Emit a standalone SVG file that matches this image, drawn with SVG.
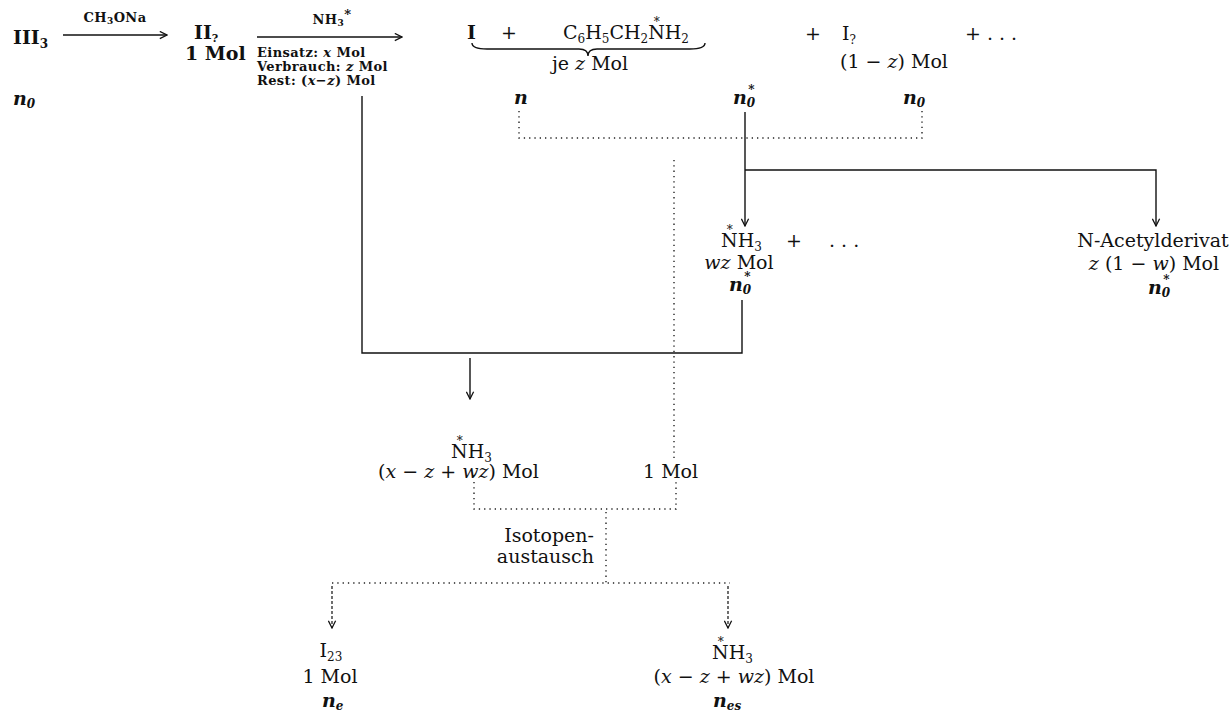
<svg xmlns="http://www.w3.org/2000/svg" width="1232" height="715" viewBox="0 0 1232 715">
<defs>
<style>
text{font-family:"DejaVu Serif","Liberation Serif",serif;fill:#111;font-size:19px}
.b{font-weight:bold}
.sm{font-size:13px;font-weight:bold;letter-spacing:0.4px}
.v{font-style:italic;font-weight:bold}
.i{font-style:italic}
.sub{font-size:12px}
.solid{fill:none;stroke:#111;stroke-width:1.4}
.dot{fill:none;stroke:#222;stroke-width:1.4;stroke-dasharray:1.3 4}
.dash{fill:none;stroke:#222;stroke-width:1.3;stroke-dasharray:3 2}
</style>
<marker id="ah" viewBox="0 0 10 10" refX="9" refY="5" markerWidth="9" markerHeight="9" markerUnits="userSpaceOnUse" orient="auto">
<path d="M1,1 L9,5 L1,9" fill="none" stroke="#111" stroke-width="1.4"/>
</marker>
</defs>
<rect width="1232" height="715" fill="#fff"/>

<g id="connectors">
<line class="solid" x1="63" y1="35" x2="167" y2="35" marker-end="url(#ah)"/>
<line class="solid" x1="257" y1="37" x2="402" y2="37" marker-end="url(#ah)"/>
<path class="solid" d="M472,43 Q472,49 487,49 L579,49 Q588,49 588,56 Q588,49 597,49 L690,49 Q705,49 705,43"/>
<path class="dot" d="M519,111 V138 H922 V111"/>
<line class="solid" x1="745" y1="112" x2="745" y2="226" marker-end="url(#ah)"/>
<path class="solid" d="M745,170 H1156 V226" marker-end="url(#ah)"/>
<line class="dot" x1="674" y1="160" x2="674" y2="460"/>
<path class="solid" d="M362,96 V353 H742 V300"/>
<line class="solid" x1="470" y1="358" x2="470" y2="399" marker-end="url(#ah)"/>
<path class="dot" d="M474,482 V509 H676 V482"/>
<line class="dot" x1="606" y1="512" x2="606" y2="583"/>
<line class="dot" x1="332" y1="583" x2="730" y2="583"/>
<line class="dash" x1="332" y1="586" x2="332" y2="628" marker-end="url(#ah)"/>
<line class="dash" x1="728" y1="586" x2="728" y2="628" marker-end="url(#ah)"/>
</g>

<g id="n-III3"><text class="b" x="13" y="44">III<tspan dy="4" font-size="12">3</tspan></text></g>
<g id="n-n0-left"><text class="v" x="13" y="105">n<tspan dy="3" class="sub">0</tspan></text></g>
<g id="l-ch3ona"><text class="sm" x="115" y="22" text-anchor="middle">CH<tspan dy="2" font-size="9">3</tspan><tspan dy="-2">ONa</tspan></text></g>
<g id="n-II2"><text class="b" x="194" y="39">II<tspan dy="3" font-size="11">?</tspan></text>
<text class="b" x="185" y="60">1 Mol</text></g>
<g id="l-nh3"><text class="sm" x="332" y="24" text-anchor="middle">NH<tspan dy="2" font-size="9">3</tspan><tspan dy="-7">*</tspan></text>
<text class="sm" x="257" y="57">Einsatz: <tspan font-style="italic">x</tspan> Mol</text>
<text class="sm" x="257" y="71">Verbrauch: <tspan font-style="italic">z</tspan> Mol</text>
<text class="sm" x="257" y="85">Rest: (<tspan font-style="italic">x</tspan>−<tspan font-style="italic">z</tspan>) Mol</text></g>

<g id="n-products">
<text class="b" x="467" y="39">I</text>
<text x="509" y="39" text-anchor="middle">+</text>
<text x="563" y="39">C<tspan dy="4" class="sub">6</tspan><tspan dy="-4">H</tspan><tspan dy="4" class="sub">5</tspan><tspan dy="-4">CH</tspan><tspan dy="4" class="sub">2</tspan><tspan dy="-4">N</tspan><tspan dx="-11" dy="-13" class="sub">*</tspan><tspan dx="5" dy="13">H</tspan><tspan dy="4" class="sub">2</tspan></text>
<text x="590" y="70" text-anchor="middle">je <tspan class="i">z</tspan> Mol</text>
</g>
<g id="n-I2">
<text x="813" y="40" text-anchor="middle">+</text>
<text x="842" y="40">I<tspan dy="4" class="sub">?</tspan></text>
<text x="840" y="68">(1 − <tspan class="i">z</tspan>) Mol</text>
<text x="965" y="40">+ . . .</text>
</g>
<g id="n-rowN">
<text class="v" x="514" y="104">n</text>
<text class="v" x="733" y="104">n<tspan dy="3" class="sub">0</tspan><tspan dx="-7" dy="-13" class="sub">*</tspan></text>
<text class="v" x="903" y="104">n<tspan dy="3" class="sub">0</tspan></text>
</g>

<g id="n-nh3-wz">
<text x="721" y="247">N<tspan dx="-11" dy="-13" class="sub">*</tspan><tspan dx="5" dy="13">H</tspan><tspan dy="4" class="sub">3</tspan></text>
<text x="739" y="269" text-anchor="middle"><tspan class="i">wz</tspan> Mol</text>
<text class="v" x="729" y="291">n<tspan dy="3" class="sub">0</tspan><tspan dx="-7" dy="-13" class="sub">*</tspan></text>
<text x="786" y="247">+</text>
<text x="829" y="247">. . .</text>
</g>

<g id="n-acetyl">
<text x="1153" y="247" text-anchor="middle">N-Acetylderivat</text>
<text x="1154" y="270" text-anchor="middle"><tspan class="i">z</tspan> (1 − <tspan class="i">w</tspan>) Mol</text>
<text class="v" x="1148" y="294">n<tspan dy="3" class="sub">0</tspan><tspan dx="-7" dy="-13" class="sub">*</tspan></text>
</g>

<g id="n-nh3-mid">
<text x="451" y="458">N<tspan dx="-11" dy="-13" class="sub">*</tspan><tspan dx="5" dy="13">H</tspan><tspan dy="4" class="sub">3</tspan></text>
<text x="378" y="478">(<tspan class="i">x</tspan> − <tspan class="i">z</tspan> + <tspan class="i">wz</tspan>) Mol</text>
</g>
<g id="n-1mol"><text x="643" y="478">1 Mol</text></g>
<g id="l-isotopen">
<text x="594" y="542" text-anchor="end">Isotopen-</text>
<text x="594" y="563" text-anchor="end">austausch</text>
</g>
<g id="n-I23">
<text x="331" y="657" text-anchor="middle">I<tspan dy="4" class="sub">23</tspan></text>
<text x="330" y="683" text-anchor="middle">1 Mol</text>
<text class="v" x="322" y="707">n<tspan dy="3" class="sub">e</tspan></text>
</g>
<g id="n-nh3-bot">
<text x="712" y="659">N<tspan dx="-11" dy="-13" class="sub">*</tspan><tspan dx="5" dy="13">H</tspan><tspan dy="4" class="sub">3</tspan></text>
<text x="734" y="683" text-anchor="middle">(<tspan class="i">x</tspan> − <tspan class="i">z</tspan> + <tspan class="i">wz</tspan>) Mol</text>
<text class="v" x="713" y="707">n<tspan dy="3" class="sub">es</tspan></text>
</g>
</svg>
